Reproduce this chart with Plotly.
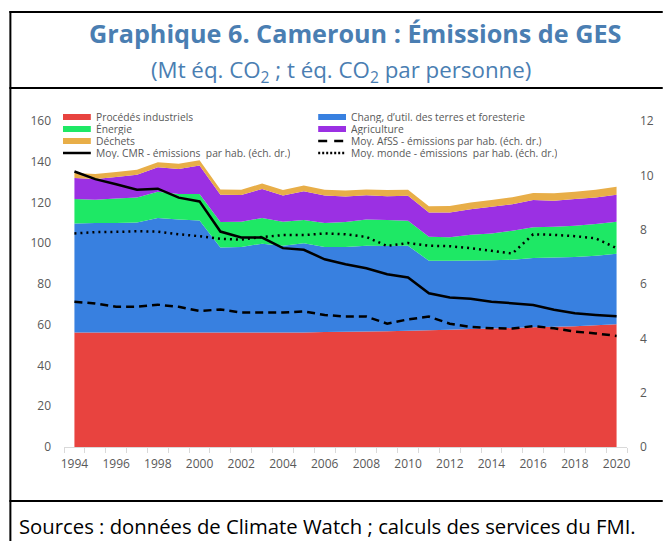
import plotly.graph_objects as go

years = list(range(1994, 2021))

procedes = [56.2, 56.2, 56.2, 56.2, 56.2, 56.2, 56.2, 56.2, 56.2, 56.2, 56.2, 56.2,
            56.4, 56.6, 56.7, 56.8, 57.0, 57.3, 57.6, 57.9, 58.1, 58.4, 58.8, 59.0, 59.3, 59.8, 60.3]
terres = [53.5, 53.7, 53.8, 54.0, 56.2, 55.5, 55.0, 41.7, 42.0, 43.6, 42.6, 43.8, 41.8, 41.6,
          42.1, 41.8, 41.8, 34.1, 33.8, 33.6, 33.5, 33.5, 33.9, 34.0, 34.0, 34.1, 34.5]
energie = [12.0, 11.5, 12.0, 12.3, 12.9, 12.5, 13.0, 12.5, 12.4, 12.6, 11.8, 11.4, 11.7, 12.2,
           12.9, 12.8, 12.3, 11.8, 11.5, 12.7, 13.2, 14.2, 15.1, 15.1, 15.3, 15.5, 15.8]
agriculture = [10.3, 10.1, 10.5, 11.1, 12.0, 12.2, 13.9, 13.4, 13.1, 14.2, 12.8, 14.1, 13.5, 12.6,
               11.8, 11.7, 12.2, 11.9, 12.2, 12.5, 13.1, 13.1, 13.4, 12.8, 13.1, 13.1, 13.2]
dechets = [2.5, 2.5, 2.5, 2.5, 2.5, 2.6, 2.6, 2.6, 2.6, 2.7, 2.7, 2.8, 2.8, 2.9,
           2.9, 3.0, 3.0, 3.1, 3.2, 3.3, 3.3, 3.4, 3.5, 3.6, 3.6, 3.7, 3.9]

cmr = [10.14, 9.86, 9.67, 9.47, 9.51, 9.18, 9.04, 7.93, 7.71, 7.71, 7.32, 7.26, 6.91, 6.73,
       6.58, 6.36, 6.24, 5.66, 5.50, 5.46, 5.35, 5.30, 5.23, 5.05, 4.92, 4.86, 4.81]
afss = [5.35, 5.28, 5.16, 5.16, 5.24, 5.16, 5.01, 5.06, 4.95, 4.96, 4.95, 4.99, 4.86, 4.80,
        4.80, 4.54, 4.70, 4.80, 4.54, 4.42, 4.37, 4.36, 4.45, 4.37, 4.25, 4.18, 4.09]
monde = [7.86, 7.91, 7.92, 7.94, 7.93, 7.83, 7.76, 7.66, 7.63, 7.73, 7.80, 7.80, 7.86, 7.83,
         7.73, 7.40, 7.51, 7.41, 7.39, 7.32, 7.22, 7.12, 7.83, 7.81, 7.76, 7.68, 7.32]

area_names = ["Procédés industriels", "Chang, d’util. des terres et foresterie", "Énergie",
              "Agriculture", "Déchets"]
line_names = ["Moy. AfSS - émissions par hab. (éch. dr.)",
              "Moy. CMR - émissions  par hab. (éch. dr.)",
              "Moy. monde - émissions  par hab. (éch. dr.)"]
xtick_labels = [str(y) for y in range(1994, 2021, 2)]
left_ticks = list(range(0, 161, 20))
right_ticks = list(range(0, 13, 2))

area_colors = ["#E8433F", "#3880E0", "#1EE865", "#9B30E3", "#E8AE48"]
TEXT = "#595959"
FONT = "Open Sans"

W, H = 666, 541
L, R, T, B = 64, 631, 121, 447


def px(x):
    return (x - L) / (R - L)


def py(y):
    return (B - y) / (B - T)


fig = go.Figure()
for name, vals, col in zip(area_names, [procedes, terres, energie, agriculture, dechets], area_colors):
    fig.add_trace(go.Scatter(x=years, y=vals, name=name, stackgroup="one", mode="none",
                             fillcolor=col, showlegend=False))

fig.add_trace(go.Scatter(x=years, y=afss, name=line_names[0], yaxis="y2", mode="lines",
                         line=dict(color="black", width=2.5, dash="8px,5px"), showlegend=False))
fig.add_trace(go.Scatter(x=years, y=cmr, name=line_names[1], yaxis="y2", mode="lines",
                         line=dict(color="black", width=2.5), showlegend=False))
fig.add_trace(go.Scatter(x=years, y=monde, name=line_names[2], yaxis="y2", mode="lines",
                         line=dict(color="black", width=2.5, dash="2px,4px"), showlegend=False))

shapes = []
annotations = []

# manual legend (two columns)
legend_items = [
    ("rect", area_colors[0], area_names[0]), ("rect", area_colors[1], area_names[1]),
    ("rect", area_colors[2], area_names[2]), ("rect", area_colors[3], area_names[3]),
    ("rect", area_colors[4], area_names[4]), ("dash", "black", line_names[0]),
    ("solid", "black", line_names[1]), ("dot", "black", line_names[2]),
]
rows_y = [117, 129, 141, 153]
cols_x = [63, 320]
for i, (kind, col, name) in enumerate(legend_items):
    cx = cols_x[i % 2]
    ry = rows_y[i // 2]
    if kind == "rect":
        shapes.append(dict(type="rect", xref="paper", yref="paper", x0=px(cx), x1=px(cx + 28),
                           y0=py(ry + 3), y1=py(ry - 3), fillcolor=col, line=dict(width=0)))
    else:
        dash = {"solid": "solid", "dash": "9px,7px", "dot": "2px,2px"}[kind]
        shapes.append(dict(type="line", xref="paper", yref="paper", x0=px(cx), x1=px(cx + 28),
                           y0=py(ry), y1=py(ry), line=dict(color=col, width=2.5, dash=dash)))
    annotations.append(dict(text=name, xref="paper", yref="paper", x=px(cx + 31), y=py(ry),
                            xanchor="left", yanchor="middle", showarrow=False, height=12,
                            font=dict(family=FONT, size=10.3, color=TEXT)))

# frame
for y in [12, 88, 501]:
    shapes.append(dict(type="line", xref="paper", yref="paper", x0=px(9), x1=px(667),
                       y0=py(y), y1=py(y), line=dict(color="black", width=2)))
shapes.append(dict(type="line", xref="paper", yref="paper", x0=px(10), x1=px(10),
                   y0=py(11), y1=py(542), line=dict(color="black", width=2)))

annotations.append(dict(text="<b>Graphique 6. Cameroun : Émissions de GES</b>", xref="paper",
                        yref="paper", x=px(357), y=py(33), xanchor="center", yanchor="middle",
                        showarrow=False, font=dict(family=FONT, size=25.2, color="#4A7EB2")))
annotations.append(dict(text="(Mt éq. CO<sub>2</sub> ; t éq. CO<sub>2</sub> par personne)",
                        xref="paper", yref="paper", x=px(343), y=py(71), xanchor="center",
                        yanchor="middle", showarrow=False,
                        font=dict(family=FONT, size=22.3, color="#4A7EB2")))
annotations.append(dict(text="Sources : données de Climate Watch ; calculs des services du FMI.",
                        xref="paper", yref="paper", x=px(17), y=py(526), xanchor="left",
                        yanchor="middle", showarrow=False,
                        font=dict(family=FONT, size=20.3, color="black")))

fig.update_layout(
    width=W, height=H,
    margin=dict(l=L, r=W - R, t=T, b=H - B, pad=0),
    paper_bgcolor="white", plot_bgcolor="white",
    showlegend=False,
    shapes=shapes, annotations=annotations,
    font=dict(family=FONT, size=12, color=TEXT),
    xaxis=dict(range=[1993.5, 2020.5], tickmode="array", tickvals=list(range(1994, 2021, 2)),
               ticktext=xtick_labels, ticks="", showgrid=False, zeroline=False,
               showline=True, linecolor="#D9D9D9", linewidth=1, ticklabelstandoff=6,
               tickfont=dict(family=FONT, size=12, color=TEXT),
               minor=dict(ticks="outside", ticklen=5, tickcolor="#D9D9D9", tick0=1993.5, dtick=1,
                          showgrid=False)),
    yaxis=dict(range=[0, 160], tickmode="array", tickvals=left_ticks, ticks="", showgrid=False,
               zeroline=False, showline=False, ticklabelstandoff=12,
               tickfont=dict(family=FONT, size=12, color=TEXT)),
    yaxis2=dict(range=[0, 12], tickmode="array", tickvals=right_ticks, overlaying="y", side="right",
                ticks="", showgrid=False, zeroline=False, showline=False, ticklabelstandoff=12,
                tickfont=dict(family=FONT, size=12, color=TEXT)),
)

fig.write_html("out.html", config={"displayModeBar": False},
               post_script="document.body.style.margin='0';document.body.style.overflow='hidden';")
